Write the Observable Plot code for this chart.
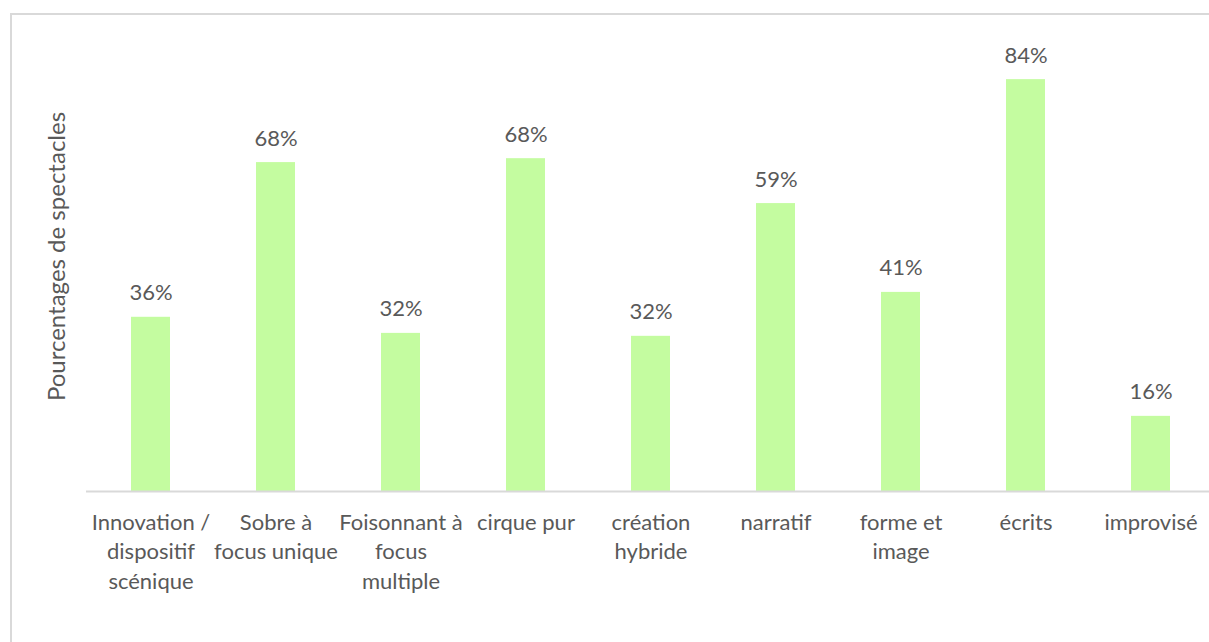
<!DOCTYPE html>
<html>
<head>
<meta charset="utf-8">
<script src="https://cdn.jsdelivr.net/npm/d3@7"></script>
<script src="https://cdn.jsdelivr.net/npm/@observablehq/plot@0.6"></script>
<style>
  html, body { margin: 0; padding: 0; background: #fff; overflow: hidden; width: 1209px; height: 642px; }
  #frame { position: absolute; left: 10px; top: 13px; width: 1300px; height: 700px; border: 2px solid #d9d9d9; box-sizing: border-box; }
  #chart { position: absolute; left: 0; top: 0; width: 1240px; }
  #chart svg { max-width: none !important; }
</style>
</head>
<body>
<div id="frame"></div>
<div id="chart"></div>
<script>
const categories = ["Innovation / dispositif scénique", "Sobre à focus unique", "Foisonnant à focus multiple", "cirque pur", "création hybride", "narratif", "forme et image", "écrits", "improvisé"];
const tickLabels = ["Innovation /\ndispositif\nscénique", "Sobre à\nfocus unique", "Foisonnant à\nfocus\nmultiple", "cirque pur", "création\nhybride", "narratif", "forme et\nimage", "écrits", "improvisé"];
const values = [35.7, 67.4, 32.4, 68.2, 31.8, 59.0, 40.8, 84.4, 15.4];
const valueLabels = ["36%", "68%", "32%", "68%", "32%", "59%", "41%", "84%", "16%"];
const yTitle = "Pourcentages de spectacles";

const data = categories.map((c, i) => ({cat: c, value: values[i], label: valueLabels[i]}));
const tickMap = new Map(categories.map((c, i) => [c, tickLabels[i]]));

const font = "Lato, 'Open Sans', sans-serif";
const grey = "#595959";

const chart = Plot.plot({
  width: 1240,
  height: 642,
  marginLeft: 86,
  marginRight: 25,
  marginTop: 3,
  marginBottom: 151,
  style: {fontFamily: font, color: grey, background: "transparent", overflow: "visible", maxWidth: "none"},
  x: {domain: categories, paddingInner: 0.69, paddingOuter: 0.345, align: 0.5, label: null},
  y: {domain: [0, 100], axis: null},
  marks: [
    Plot.barY(data, {x: "cat", y: "value", fill: "#c4fca0"}),
    Plot.ruleY([0], {stroke: "#d9d9d9", strokeWidth: 2}),
    Plot.text(data, {x: "cat", y: "value", text: "label", dy: -24, fontSize: 22, fill: grey}),
    Plot.axisX({tickSize: 0, tickPadding: 17, fontSize: 22, lineHeight: 1.35, tickFormat: d => tickMap.get(d), fill: grey, label: null}),
    Plot.text([yTitle], {frameAnchor: "left", text: d => d, rotate: -90, textAnchor: "middle", dx: -29, dy: 9, fontSize: 24, fill: grey})
  ]
});
document.getElementById("chart").appendChild(chart);
</script>
</body>
</html>
